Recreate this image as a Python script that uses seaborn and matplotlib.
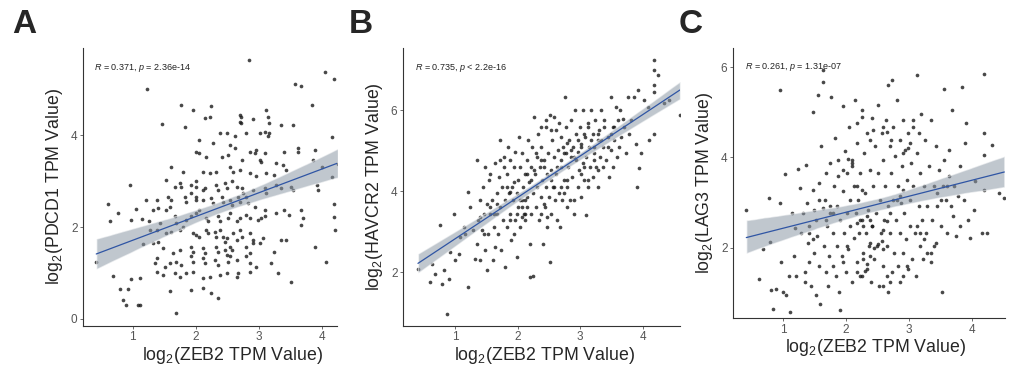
import matplotlib
matplotlib.use("Agg")
import matplotlib.pyplot as plt
import seaborn as sns
import numpy as np

# panel A: ZEB2 vs PDCD1
zeb2_a = [0.42, 0.61, 0.64, 0.69, 0.77, 0.80, 0.85, 0.90, 0.92, 0.96, 0.97, 0.97, 1.05, 1.09, 1.12, 1.11,
          1.14, 1.17, 1.21, 1.22, 1.26, 2.84, 3.58, 3.68, 4.00, 4.05, 4.07, 4.16, 4.17, 4.19, 4.19, 4.20,
          4.21, 4.26,
          1.77, 1.96, 2.25, 2.14, 2.22, 2.71, 2.72, 2.71, 2.72, 2.91, 3.12, 3.15, 3.17, 3.36, 3.55, 3.84,
          1.47, 1.83, 2.38, 2.49, 2.62, 2.80, 3.02, 3.10, 3.15, 3.17, 2.06, 2.28, 2.54, 2.62, 2.86, 2.96,
          2.95, 3.10, 3.41, 3.62, 3.62, 2.01, 2.06, 2.17, 2.41, 2.51, 2.73, 3.02, 3.04, 3.28, 3.39, 3.44,
          3.86, 3.89, 1.61, 1.80, 2.12, 2.22, 2.33, 2.54, 2.59, 2.70, 2.86, 2.96, 3.12, 3.25, 1.53, 1.67,
          1.75, 1.77, 1.92, 2.00, 2.01, 2.12, 2.14, 2.33, 2.35, 2.46, 2.49, 2.57, 2.65, 2.73, 2.75, 2.91,
          3.10, 3.12, 3.28, 3.36, 3.52, 3.55, 3.92, 3.94, 1.38, 1.56, 1.61, 1.83, 1.85, 1.93, 2.00, 2.01,
          2.12, 2.25, 2.28, 2.41, 2.43, 2.54, 2.57, 2.67, 2.70, 2.80, 2.83, 2.94, 3.10, 3.10, 3.28, 3.41,
          3.49, 3.68, 3.70, 3.68, 1.32, 1.40, 1.53, 1.59, 1.67, 1.69, 1.85, 1.92, 2.01, 2.06, 2.17, 2.20,
          2.35, 2.38, 2.54, 2.51, 2.65, 2.70, 2.80, 2.86, 2.99, 3.04, 1.27, 1.38, 1.43, 1.53, 1.61, 1.75,
          1.80, 1.96, 2.01, 2.06, 2.17, 2.20, 2.30, 2.33, 2.38, 2.43, 2.46, 2.49, 2.59, 2.65, 2.70, 2.73,
          2.86, 2.91, 3.02, 3.07, 3.36, 3.44, 3.89, 1.32, 1.40, 1.48, 1.64, 1.75, 1.92, 1.96, 2.12, 2.14,
          2.33, 2.35, 2.46, 2.49, 2.54, 2.57, 2.80, 2.86, 2.91, 3.25, 1.38, 1.35, 1.51, 1.59, 1.69, 1.77,
          1.93, 1.96, 2.12, 2.14, 2.30, 2.35, 2.51, 2.54, 2.65, 2.80, 2.86, 2.96, 3.20, 1.38, 1.48, 1.67,
          1.75, 1.85, 1.96, 2.12, 2.22, 2.38, 2.49, 2.65, 2.67, 2.86, 3.31, 3.52, 1.59, 1.92, 2.12, 2.25,
          2.35, 1.69]
pdcd1 = [1.25, 2.50, 2.12, 0.94, 2.31, 0.66, 0.42, 0.30, 0.66, 2.91, 2.15, 0.87, 2.40, 0.31, 0.30, 0.90,
         2.17, 1.62, 2.58, 5.00, 2.12, 5.62, 5.11, 5.07, 3.31, 5.36, 1.23, 3.96, 3.09, 5.22, 2.51, 2.22,
         1.94, 3.38,
         4.65, 4.55, 4.62, 4.36, 4.40, 4.44, 4.40, 4.29, 4.26, 4.34, 4.55, 4.40, 4.26, 4.22, 4.22, 4.65,
         4.24, 4.18, 4.04, 4.04, 3.97, 4.04, 4.04, 4.07, 3.97, 4.04, 3.89, 3.82, 3.78, 3.71, 3.64, 3.68,
         3.60, 3.60, 3.64, 3.71, 3.64, 3.64, 3.60, 3.53, 3.53, 3.57, 3.46, 3.46, 3.42, 3.39, 3.35, 3.24,
         3.46, 3.68, 3.31, 3.20, 3.20, 3.17, 3.20, 3.31, 3.20, 3.24, 3.17, 3.10, 3.17, 3.13, 3.02, 2.88,
         2.95, 2.88, 2.91, 2.99, 2.88, 2.81, 2.84, 2.91, 2.81, 2.95, 2.84, 2.99, 2.88, 2.84, 2.73, 2.81,
         2.84, 2.73, 2.91, 2.84, 2.88, 2.81, 2.91, 2.81, 2.59, 2.66, 2.59, 2.66, 2.55, 2.73, 2.59, 2.66,
         2.59, 2.62, 2.52, 2.66, 2.55, 2.59, 2.48, 2.66, 2.55, 2.66, 2.52, 2.44, 2.37, 2.23, 2.30, 2.37,
         2.26, 2.37, 2.19, 2.05, 2.37, 2.41, 2.37, 2.44, 2.23, 2.08, 2.16, 2.23, 2.30, 2.37, 2.19, 2.12,
         2.23, 2.12, 2.30, 2.19, 2.12, 2.19, 2.26, 2.19, 2.16, 2.19, 1.94, 1.94, 2.08, 1.86, 1.90, 1.94,
         2.01, 1.86, 1.83, 1.79, 1.94, 1.86, 1.90, 1.79, 1.94, 1.79, 1.68, 1.76, 1.86, 1.72, 1.94, 1.79,
         1.86, 1.72, 1.65, 1.76, 1.72, 1.72, 1.57, 1.65, 1.68, 1.54, 1.43, 1.50, 1.57, 1.46, 1.54, 1.43,
         1.57, 1.46, 1.50, 1.39, 1.57, 1.50, 1.57, 1.43, 1.65, 1.46, 1.32, 1.21, 1.14, 1.21, 1.25, 1.18,
         1.36, 1.25, 1.32, 1.21, 1.28, 1.18, 1.25, 1.36, 1.28, 1.36, 1.21, 1.14, 1.21, 1.03, 0.96, 0.99,
         0.92, 0.99, 1.03, 0.89, 0.92, 0.96, 0.99, 0.92, 0.99, 1.03, 0.99, 0.81, 0.60, 0.63, 0.67, 0.56,
         0.45, 0.13]

# panel B: ZEB2 vs HAVCR2
zeb2_b = [0.40, 0.60, 0.63, 0.68, 0.76, 0.79, 0.81, 0.86, 0.89, 0.92, 0.97, 1.00, 1.05, 1.08, 1.13, 1.16,
          1.21, 1.21, 1.24, 1.29, 1.32, 1.34, 1.35, 1.37, 1.39, 1.40, 1.43, 1.44, 1.46, 1.47, 1.48, 1.50,
          1.51, 1.52, 1.54, 1.55, 1.56, 1.59, 1.61, 1.62, 1.63, 1.64, 1.66, 1.67, 1.68, 1.70, 1.71, 1.72,
          1.73, 1.75, 1.77, 1.78, 1.79, 1.80, 1.82, 1.83, 1.84, 1.86, 1.87, 1.88, 1.89, 1.91, 1.93, 1.94,
          1.95, 1.96, 1.98, 1.99, 2.00, 2.01, 2.02, 2.03, 2.04, 2.06, 2.07, 2.09, 2.10, 2.11, 2.12, 2.14,
          2.15, 2.16, 2.18, 2.19, 2.19, 2.21, 2.22, 2.23, 2.25, 2.25, 2.26, 2.27, 2.29, 2.30, 2.31, 2.32,
          2.34, 2.36, 2.37, 2.38, 2.39, 2.41, 2.42, 2.43, 2.45, 2.46, 2.47, 2.48, 2.50, 2.52, 2.52, 2.53,
          2.54, 2.55, 2.57, 2.58, 2.59, 2.61, 2.62, 2.63, 2.64, 2.66, 2.68, 2.69, 2.70, 2.71, 2.73, 2.74,
          2.75, 2.77, 2.78, 2.79, 2.80, 2.82, 2.84, 2.85, 2.86, 2.87, 2.89, 2.90, 2.91, 2.93, 2.94, 2.96,
          2.97, 2.98, 3.00, 3.01, 3.02, 3.04, 3.05, 3.06, 3.08, 3.09, 3.10, 3.12, 3.13, 3.14, 3.16, 3.18,
          3.20, 3.21, 3.22, 3.23, 3.25, 3.28, 3.29, 3.30, 3.32, 3.33, 3.36, 3.37, 3.38, 3.41, 3.44, 3.46,
          3.49, 3.50, 3.52, 3.53, 3.54, 3.57, 3.59, 3.60, 3.62, 3.64, 3.65, 3.68, 3.70, 3.73, 3.76, 3.79,
          3.81, 3.87, 3.89, 3.91, 3.92, 3.95, 3.97, 4.03, 4.08, 4.11, 4.19, 4.19, 4.19, 4.19, 4.19, 4.24,
          4.35, 4.43, 4.60,
          1.83, 1.88, 1.94, 2.04, 2.07, 2.12, 2.15, 2.07, 2.11, 2.15, 2.21, 2.26, 2.31, 2.37, 2.42, 2.47,
          2.53, 2.58, 2.63, 2.69, 2.74, 2.79, 2.85, 2.90, 2.96, 3.01, 3.06, 3.12, 3.17, 3.22, 3.28, 3.33,
          3.38, 3.44, 3.49, 3.54, 2.37, 2.45, 2.53, 2.58, 2.66, 1.72, 1.78, 1.56, 1.62, 1.67, 1.40, 1.46,
          1.88, 1.94, 1.99, 2.37, 2.42, 2.47, 2.69, 2.74, 2.79, 3.01, 3.06, 3.12, 3.22, 3.28, 2.79, 2.90]
havcr2 = [2.08, 1.75, 2.21, 1.96, 3.15, 1.71, 2.04, 0.97, 1.84, 2.49, 3.44, 2.29, 2.45, 2.87, 3.11, 2.95,
          1.63, 3.98, 3.61, 3.03, 2.33, 4.76, 2.70, 3.28, 3.77, 2.29, 3.03, 4.10, 3.44, 2.54, 4.60, 3.69,
          2.04, 2.95, 4.27, 3.44, 4.43, 3.77, 2.29, 3.11, 4.68, 2.62, 3.94, 3.44, 2.95, 4.35, 5.26, 3.61,
          2.54, 4.10, 3.28, 4.85, 3.77, 2.12, 4.43, 3.11, 5.09, 3.94, 3.44, 4.76, 2.78, 4.10, 3.77, 4.60,
          3.28, 4.97, 3.94, 2.37, 4.27, 3.61, 5.34, 3.11, 4.60, 3.77, 4.93, 4.10, 3.44, 4.43, 3.77, 4.76,
          3.61, 5.26, 4.23, 2.70, 1.88, 4.60, 3.44, 5.09, 1.89, 3.94, 5.84, 4.43, 3.61, 4.93, 4.10, 5.42,
          3.28, 4.60, 3.86, 5.09, 4.27, 2.70, 4.76, 3.61, 5.59, 4.10, 3.11, 4.93, 3.86, 5.88, 2.25, 4.52,
          3.44, 5.26, 4.10, 4.85, 3.77, 5.51, 4.43, 3.28, 5.01, 3.94, 3.11, 5.34, 4.60, 3.77, 5.09, 4.27,
          6.33, 4.93, 5.59, 4.10, 4.60, 5.26, 3.77, 4.85, 5.75, 4.35, 5.09, 3.44, 6.00, 4.76, 5.42, 4.10,
          4.97, 4.52, 5.59, 3.86, 5.17, 4.68, 6.00, 4.27, 5.34, 3.40, 4.85, 5.67, 4.10, 5.09, 4.60, 6.00,
          5.42, 4.35, 4.93, 5.75, 4.60, 5.26, 4.10, 5.51, 4.85, 6.00, 4.60, 5.09, 5.59, 4.76, 5.34, 4.35,
          6.33, 5.01, 5.59, 4.60, 5.26, 6.08, 4.85, 5.75, 5.09, 6.00, 5.34, 5.79, 5.59, 4.93, 6.33, 5.42,
          5.75, 6.33, 5.17, 4.10, 6.50, 4.56, 4.93, 6.25, 6.08, 5.26, 7.24, 6.99, 6.62, 6.45, 5.42, 6.87,
          6.17, 6.25, 5.88,
          4.10, 3.98, 4.23, 3.77, 3.61, 3.44, 3.86, 3.36, 3.28, 4.43, 4.27, 4.52, 4.85, 4.76, 4.60, 4.43,
          4.27, 4.10, 4.60, 4.76, 4.93, 5.18, 5.01, 4.85, 5.26, 5.09, 5.42, 5.59, 5.26, 5.09, 5.42, 5.26,
          5.75, 5.09, 5.42, 5.59, 5.59, 5.75, 5.51, 5.84, 5.67, 4.76, 4.60, 3.61, 3.44, 3.69, 3.36, 2.95,
          3.28, 2.95, 3.44, 3.44, 3.69, 3.36, 4.10, 3.94, 4.27, 4.43, 4.60, 4.27, 4.76, 4.52, 3.61, 3.77]

# panel C: ZEB2 vs LAG3
zeb2_c = [0.42, 0.62, 0.68, 0.78, 0.80, 0.81, 0.85, 0.89, 0.95, 0.96, 0.97, 1.00, 1.03, 1.05, 1.10, 1.12,
          1.15, 1.17, 1.19, 1.21, 1.24, 1.27, 1.29, 1.32, 1.35, 1.35, 1.37, 1.38, 1.40, 1.41, 1.42, 1.45,
          1.47, 1.48, 1.49, 1.50, 1.52, 1.53, 1.54, 1.56, 1.57, 1.58, 1.59, 1.61, 1.63, 1.64, 1.65, 1.66,
          1.68, 1.69, 1.70, 1.72, 1.73, 1.74, 1.75, 1.77, 1.79, 1.80, 1.81, 1.82, 1.84, 1.85, 1.86, 1.88,
          1.89, 1.90, 1.91, 1.93, 1.95, 1.96, 1.97, 1.98, 2.00, 2.01, 2.02, 2.04, 2.05, 2.06, 2.07, 2.09,
          2.10, 2.12, 2.13, 2.14, 2.16, 2.17, 2.18, 2.19, 2.21, 2.22, 2.23, 2.25, 2.26, 2.27, 2.29, 2.30,
          2.32, 2.33, 2.34, 2.35, 2.37, 2.38, 2.39, 2.41, 2.42, 2.43, 2.44, 2.46, 2.48, 2.49, 2.50, 2.51,
          2.53, 2.54, 2.55, 2.57, 2.58, 2.59, 2.60, 2.62, 2.64, 2.65, 2.66, 2.67, 2.67, 2.69, 2.70, 2.71,
          2.73, 2.73, 2.74, 2.75, 2.76, 2.78, 2.80, 2.81, 2.82, 2.83, 2.85, 2.86, 2.87, 2.89, 2.90, 2.91,
          2.92, 2.94, 2.95, 2.96, 2.98, 2.99, 3.01, 3.02, 3.03, 3.04, 3.06, 3.07, 3.10, 3.11, 3.12, 3.13,
          3.15, 3.17, 3.18, 3.19, 3.20, 3.22, 3.23, 3.26, 3.27, 3.28, 3.31, 3.34, 3.35, 3.36, 3.39, 3.42,
          3.43, 3.44, 3.47, 3.50, 3.52, 3.54, 3.55, 3.58, 3.60, 3.63, 3.66, 3.68, 3.70, 3.72, 3.75, 3.77,
          3.81, 3.84, 3.87, 3.89, 3.91, 3.93, 3.96, 4.03, 4.05, 4.16, 4.18, 4.18, 4.18, 4.19, 4.24, 4.32,
          4.43, 4.51,
          2.04, 2.09, 2.10, 2.17, 2.25, 2.33, 2.38, 2.41, 2.17, 2.23, 2.27, 2.38, 2.44, 2.51, 2.57, 2.59,
          2.27, 2.33, 2.38, 2.17, 2.25, 2.30, 2.01, 1.96, 2.59, 2.65, 2.70, 2.81, 2.86, 2.91, 2.91, 2.98,
          3.02, 2.59, 2.65, 2.71, 2.38, 2.43, 1.74, 1.80, 1.69, 1.58, 1.64, 1.42, 1.48, 1.88, 1.96, 3.12,
          3.17, 3.23, 3.28, 3.34, 3.39, 2.96, 2.91, 2.86, 2.65, 2.70, 2.59, 3.44, 3.50, 3.60, 3.55, 3.63,
          3.81, 3.07, 3.15, 2.17, 2.25]
lag3 = [2.83, 1.30, 1.96, 3.09, 2.12, 1.05, 0.64, 1.08, 2.99, 5.50, 1.67, 1.01, 3.64, 0.94, 1.38, 0.57,
        2.77, 1.82, 2.44, 1.38, 3.74, 3.32, 2.33, 2.77, 1.45, 1.23, 3.83, 2.99, 2.11, 1.67, 2.48, 1.16,
        5.01, 3.28, 2.84, 1.89, 0.94, 2.62, 2.26, 5.38, 1.60, 3.43, 0.75, 4.24, 5.93, 5.66, 2.04, 3.06,
        3.65, 1.45, 2.48, 1.16, 1.82, 3.87, 2.77, 5.34, 1.60, 2.33, 3.36, 4.42, 1.38, 2.92, 2.04, 3.94,
        1.01, 2.62, 0.61, 1.82, 3.25, 5.13, 2.33, 4.13, 1.45, 2.77, 3.65, 1.96, 4.68, 3.06, 2.48, 3.87,
        1.23, 3.36, 2.22, 5.27, 2.77, 1.67, 4.31, 3.06, 2.33, 3.65, 1.38, 2.62, 5.05, 1.89, 4.09, 3.21,
        2.33, 1.52, 4.53, 2.84, 2.04, 3.72, 1.23, 2.48, 4.86, 3.36, 1.74, 4.24, 2.77, 2.04, 3.65, 5.16,
        1.16, 3.06, 2.33, 4.53, 3.94, 1.60, 2.62, 3.36, 4.83, 2.04, 2.92, 1.01, 5.60, 4.24, 2.33, 3.65,
        5.71, 1.45, 3.06, 4.68, 1.89, 4.02, 2.62, 5.27, 3.36, 1.60, 4.39, 2.33, 2.99, 3.80, 1.89, 4.83,
        2.77, 4.17, 2.18, 3.50, 1.52, 4.53, 3.06, 2.48, 3.87, 1.74, 4.83, 3.36, 2.33, 1.38, 4.09, 5.82,
        2.92, 2.04, 3.65, 4.97, 2.62, 1.74, 3.36, 4.39, 2.33, 2.92, 3.80, 1.89, 4.83, 2.62, 3.36, 4.24,
        2.11, 2.92, 3.72, 2.48, 1.01, 3.36, 5.52, 3.06, 2.33, 3.58, 2.92, 5.05, 2.70, 3.36, 2.26, 3.14,
        2.48, 5.56, 3.06, 4.31, 4.75, 2.62, 2.22, 2.84, 3.47, 2.33, 5.85, 4.06, 4.53, 3.28, 2.33, 4.28,
        3.21, 3.10,
        3.96, 3.80, 3.94, 3.36, 3.28, 2.70, 2.62, 2.48, 2.55, 2.62, 2.48, 2.11, 2.00, 2.07, 2.15, 1.96,
        1.74, 1.63, 1.82, 1.45, 1.38, 1.49, 2.04, 1.67, 2.40, 2.59, 2.77, 3.06, 3.14, 3.28, 4.09, 4.20,
        4.31, 4.68, 4.57, 4.39, 4.39, 4.61, 2.92, 2.77, 2.62, 3.06, 2.88, 2.33, 2.18, 3.58, 3.72, 2.48,
        2.33, 2.18, 1.89, 1.67, 2.04, 1.60, 1.38, 1.23, 1.38, 1.23, 1.16, 3.21, 3.06, 3.36, 3.94, 4.17,
        3.80, 4.68, 4.53, 4.75, 4.90]

panels = [
    ("A", zeb2_a, pdcd1, "PDCD1", "0.371", "=", "2.36e-14"),
    ("B", zeb2_b, havcr2, "HAVCR2", "0.735", "<", "2.2e-16"),
    ("C", zeb2_c, lag3, "LAG3", "0.261", "=", "1.31e-07"),
]

sns.set_style("white")
plt.rcParams["font.family"] = ["Liberation Sans", "DejaVu Sans"]
plt.rcParams["mathtext.fontset"] = "custom"
plt.rcParams["mathtext.it"] = "Liberation Sans:italic"
plt.rcParams["mathtext.rm"] = "Liberation Sans"

fig = plt.figure(figsize=(10.09, 3.67), dpi=100)
rects = [[0.0823, 0.112, 0.252, 0.757],
         [0.3994, 0.112, 0.2745, 0.757],
         [0.7265, 0.1335, 0.2695, 0.7355]]
xlims = [(0.21, 4.25), (0.16, 4.6), (0.21, 4.52)]
ylims = [(-0.15, 5.89), (0.67, 7.53), (0.44, 6.42)]
yticks = [[0, 2, 4], [2, 4, 6], [2, 4, 6]]
letter_x = [0.012, 0.346, 0.673]
xlabel_x = [0.59, 0.513, 0.526]
xlabel_y = [-0.068, -0.068, -0.07]

for i, (letter, xs, ys, gene, r, op, p) in enumerate(panels):
    ax = fig.add_axes(rects[i])
    sns.regplot(x=np.array(xs), y=np.array(ys), ax=ax, color="#2f55a4",
                scatter_kws=dict(s=7, color="#1a1a1a", alpha=0.8, linewidths=0),
                line_kws=dict(color="#2f55a4", lw=0.9))
    for coll in ax.collections[1:]:
        coll.set_facecolor("#8d99a6")
        coll.set_alpha(0.55)
    ax.set_xlim(*xlims[i])
    ax.set_ylim(*ylims[i])
    ax.set_xticks([1, 2, 3, 4])
    ax.set_yticks(yticks[i])
    ax.tick_params(axis="both", colors="#555555", labelsize=8.5, length=2.5, width=0.6,
                   bottom=True, left=True, pad=1.5)
    sns.despine(ax=ax)
    for s in ["left", "bottom"]:
        ax.spines[s].set_color("#333333")
        ax.spines[s].set_linewidth(0.8)
    ax.set_xlabel(r"log$_2$(ZEB2 TPM Value)", fontsize=12.8)
    ax.xaxis.set_label_coords(xlabel_x[i], xlabel_y[i])
    ax.set_ylabel(r"log$_2$(" + gene + " TPM Value)", fontsize=12.8, labelpad=4)
    ax.text(0.045, 0.93, r"$\it{R}$ = " + r + r", $\it{p}$ " + op + " " + p,
            transform=ax.transAxes, fontsize=6.5, va="center", ha="left", color="#222222")
    fig.text(letter_x[i], 0.975, letter, fontsize=24, fontweight="bold", va="top", ha="left")

fig.savefig("out.png", dpi=100)
